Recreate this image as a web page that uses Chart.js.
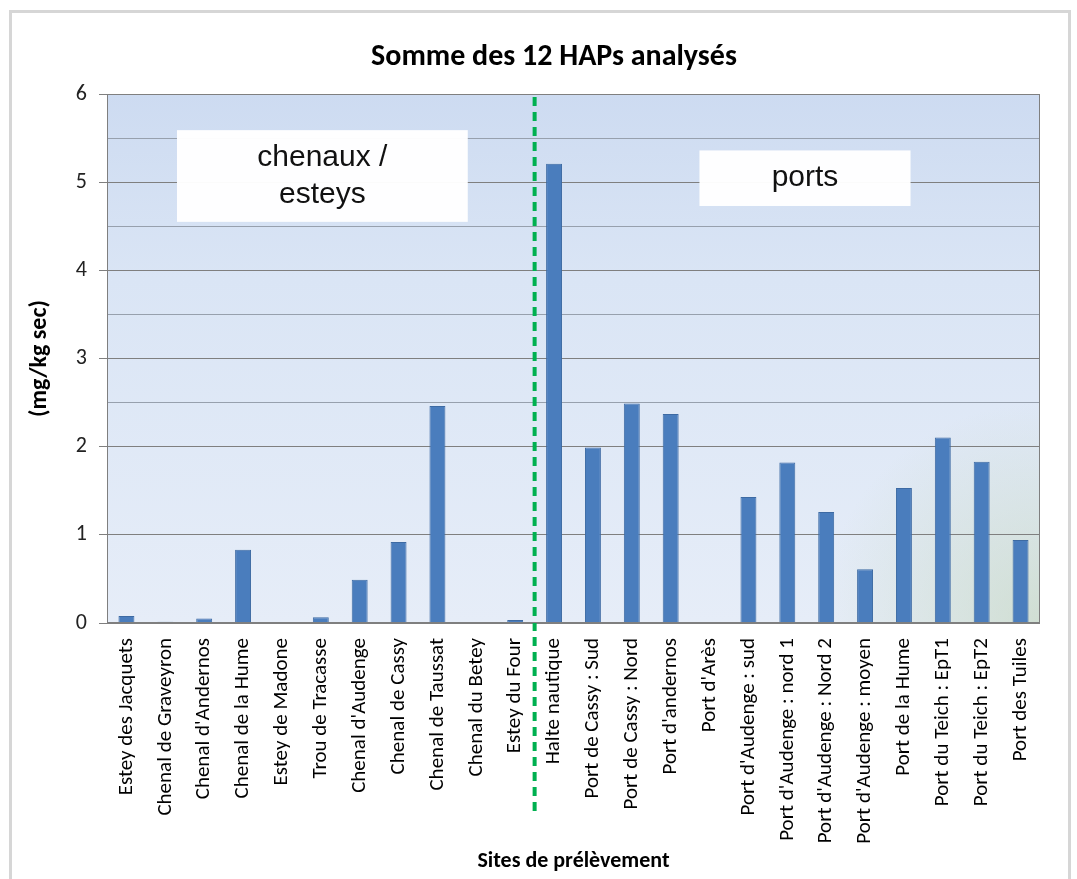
<!DOCTYPE html>
<html>
<head>
<meta charset="utf-8">
<script src="https://cdn.jsdelivr.net/npm/chart.js@4.4.1/dist/chart.umd.min.js"></script>
<style>
  html,body{margin:0;padding:0;background:#fff;}
  #wrap{position:relative;width:1077px;height:879px;overflow:hidden;}
  #frame{position:absolute;left:9px;top:10px;width:1062px;height:880px;border:3px solid #d6d6d6;box-sizing:border-box;pointer-events:none;}
  canvas{position:absolute;left:0;top:0;}
</style>
</head>
<body>
<div id="wrap">
  <canvas id="c" width="1077" height="879"></canvas>
  <div id="frame"></div>
</div>
<script>
// ---- data ----
const categories = [
  "Estey des Jacquets", "Chenal de Graveyron", "Chenal d'Andernos", "Chenal de la Hume",
  "Estey de Madone", "Trou de Tracasse", "Chenal d'Audenge", "Chenal de Cassy",
  "Chenal de Taussat", "Chenal du Betey", "Estey du Four",
  "Halte nautique", "Port de Cassy : Sud", "Port de Cassy : Nord", "Port d'andernos",
  "Port d'Arès", "Port d'Audenge : sud", "Port d'Audenge : nord 1", "Port d'Audenge : Nord 2",
  "Port d'Audenge : moyen", "Port de la Hume", "Port du Teich : EpT1", "Port du Teich : EpT2",
  "Port des Tuiles"
];
const values = [
  0.08, 0.015, 0.05, 0.83,
  0, 0.065, 0.49, 0.92,
  2.46, 0, 0.035,
  5.21, 1.99, 2.49, 2.37,
  0, 1.43, 1.82, 1.26,
  0.61, 1.53, 2.105, 1.83,
  0.94
];
const yTickValues = [0, 1, 2, 3, 4, 5, 6];
const groupLabels = [
  { lines: ["chenaux /", "esteys"], x0: 1.3, x1: 8.78, y0: 5.59, y1: 4.55 },
  { lines: ["ports"], x0: 14.74, x1: 20.17, y0: 5.36, y1: 4.73 }
];
const dividerAfterIndex = 10; // dashed separator between "Estey du Four" and "Halte nautique"
const titleText = "Somme des 12 HAPs analysés";
const xTitle = "Sites de prélèvement";
const yTitle = "(mg/kg sec)";

const FONT = 'Carlito, Calibri, "Open Sans", sans-serif';

const bgPlugin = {
  id: 'bg',
  beforeDraw(chart) {
    const { ctx, chartArea: a } = chart;
    const w = a.right - a.left, h = a.bottom - a.top;
    const g = ctx.createLinearGradient(0, a.top, 0, a.bottom);
    g.addColorStop(0, '#cddbf1');
    g.addColorStop(0.35, '#dae5f5');
    g.addColorStop(1, '#e6edf8');
    ctx.save();
    ctx.fillStyle = g;
    ctx.fillRect(a.left, a.top, w, h);
    const rg = ctx.createRadialGradient(a.right, a.bottom, 0, a.right, a.bottom, 220);
    rg.addColorStop(0, 'rgba(190,210,180,0.55)');
    rg.addColorStop(1, 'rgba(190,210,180,0)');
    ctx.fillStyle = rg;
    ctx.fillRect(a.left, a.top, w, h);
    ctx.restore();
  },
  afterDraw(chart) {
    const { ctx, chartArea: a } = chart;
    ctx.save();
    ctx.strokeStyle = '#7f7f7f';
    ctx.lineWidth = 1;
    ctx.strokeRect(a.left + 0.5, a.top + 0.5, a.right - a.left - 1, a.bottom - a.top - 1);
    ctx.restore();
  }
};

const overlayPlugin = {
  id: 'overlay',
  afterDatasetsDraw(chart) {
    const { ctx, scales: { x, y } } = chart;
    ctx.save();
    groupLabels.forEach(b => {
      const l = x.getPixelForValue(b.x0), r = x.getPixelForValue(b.x1);
      const t = y.getPixelForValue(b.y0), bt = y.getPixelForValue(b.y1);
      ctx.fillStyle = 'rgba(255,255,255,0.97)';
      ctx.fillRect(l, t, r - l, bt - t);
      ctx.fillStyle = '#111';
      ctx.font = '30px "Liberation Sans", Arial, sans-serif';
      ctx.textAlign = 'center';
      ctx.textBaseline = 'middle';
      const cx = (l + r) / 2, cy = (t + bt) / 2, lh = 37;
      b.lines.forEach((s, i) => {
        ctx.fillText(s, cx, cy + (i - (b.lines.length - 1) / 2) * lh);
      });
    });
    const dx = (x.getPixelForValue(dividerAfterIndex) + x.getPixelForValue(dividerAfterIndex + 1)) / 2;
    ctx.strokeStyle = '#00b050';
    ctx.lineWidth = 4;
    ctx.setLineDash([9, 6]);
    ctx.beginPath();
    ctx.moveTo(dx, chart.chartArea.top + 3);
    ctx.lineTo(dx, 815);
    ctx.stroke();
    ctx.restore();
  }
};

const gridColor = (ctx) => {
  const v = ctx.tick ? ctx.tick.value : 0;
  if (Number.isInteger(Math.round(v * 100) / 100)) return '#7f7f7f';
  if (v > 2) return '#97a0ad';
  return 'rgba(0,0,0,0)';
};

new Chart(document.getElementById('c'), {
  type: 'bar',
  data: {
    labels: categories,
    datasets: [{
      data: values,
      backgroundColor: '#4a7dbd',
      borderColor: '#3d6aa3',
      borderWidth: 1,
      barPercentage: 0.41,
      categoryPercentage: 1.0
    }]
  },
  options: {
    responsive: false,
    animation: false,
    layout: { padding: { left: 68, right: 37, top: 0, bottom: 0 } },
    plugins: {
      legend: { display: false },
      tooltip: { enabled: false },
      title: {
        display: true,
        text: titleText,
        color: '#000',
        font: { family: FONT, size: 30, weight: 'bold' },
        padding: { top: 39, bottom: 19 }
      }
    },
    scales: {
      x: {
        grid: { display: false, drawTicks: false },
        border: { display: false },
        ticks: {
          autoSkip: false, minRotation: 90, maxRotation: 90,
          padding: 15, color: '#000',
          font: { family: FONT, size: 21 }
        },
        title: {
          display: true, text: xTitle, color: '#000',
          font: { family: FONT, size: 22, weight: 'bold' },
          padding: { top: 0, bottom: 4 }
        },
        afterFit(s) { s.height = 256; }
      },
      y: {
        min: 0, max: 6,
        afterBuildTicks(s) {
          const t = [];
          for (let i = 0; i < yTickValues.length; i++) {
            t.push({ value: yTickValues[i] });
            if (i < yTickValues.length - 1) t.push({ value: yTickValues[i] + 0.5 });
          }
          s.ticks = t;
        },
        ticks: {
          padding: 12, color: '#222',
          font: { family: FONT, size: 22 },
          callback: (v) => Number.isInteger(v) ? String(v) : ''
        },
        grid: {
          color: gridColor,
          tickColor: (ctx) => (ctx.tick && Number.isInteger(ctx.tick.value)) ? '#7f7f7f' : 'rgba(0,0,0,0)',
          tickLength: 8
        },
        border: { display: true, color: '#7f7f7f' },
        title: {
          display: true, text: yTitle, color: '#000',
          font: { family: FONT, size: 24, weight: 'bold' },
          padding: { top: -42, bottom: 0 }
        },
        afterFit(s) { s.width = 39; }
      }
    }
  },
  plugins: [bgPlugin, overlayPlugin]
});
</script>
</body>
</html>
